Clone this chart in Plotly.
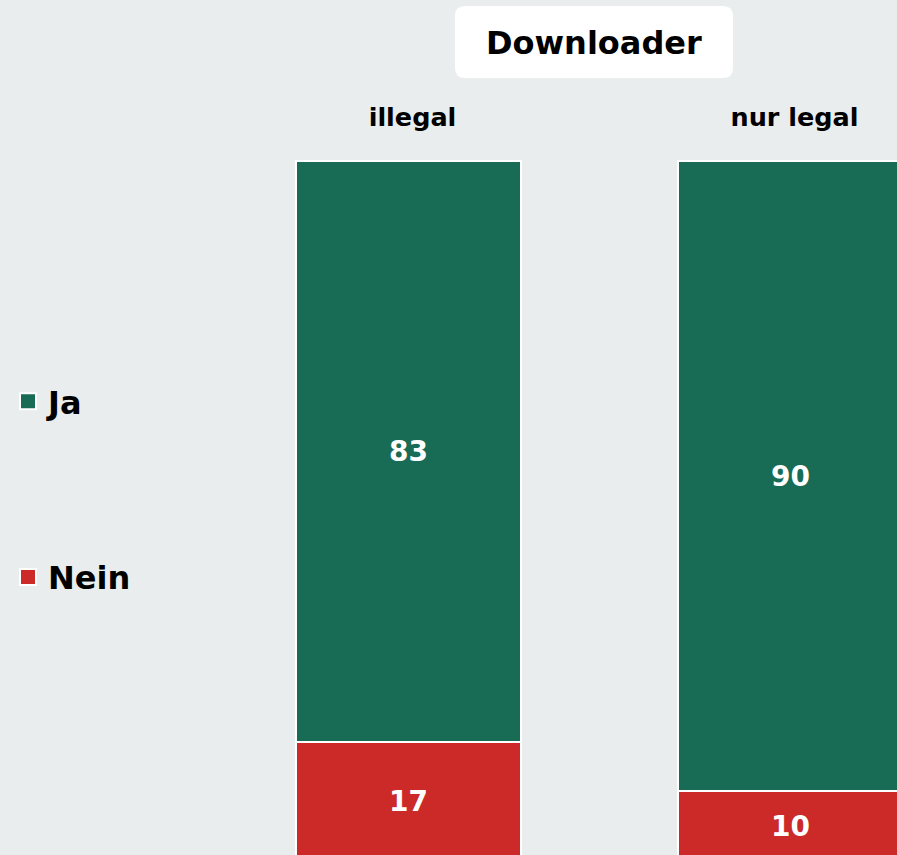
import plotly.graph_objects as go

# Survey answers by downloader type (percent)
categories = ["illegal", "nur legal"]
ja_values = [83, 90]
nein_values = [17, 10]
series_names = ["Ja", "Nein"]
chart_title = "Downloader"

GREEN = "#186B55"
RED = "#CC2929"
BG = "#E9EDEE"
FONT = "DejaVu Sans"

W, H = 897, 855
M_TOP, M_BOTTOM = 160, 0
PLOT_H = H - M_TOP - M_BOTTOM


def px_x(px):
    return px / W


def px_y(py):
    return (H - M_BOTTOM - py) / PLOT_H


x_pos = list(range(len(categories)))
value_font = dict(family=FONT, size=28, color="white", weight="bold")

fig = go.Figure()
# "Nein" sits at the bottom of each stack, "Ja" above it
fig.add_trace(go.Bar(
    x=x_pos, y=nein_values, name=series_names[1],
    marker=dict(color=RED, line=dict(color="white", width=2)),
    text=[str(v) for v in nein_values], textposition="inside",
    insidetextanchor="middle", textfont=value_font,
    width=0.589, showlegend=False, hoverinfo="skip",
))
fig.add_trace(go.Bar(
    x=x_pos, y=ja_values, name=series_names[0],
    marker=dict(color=GREEN, line=dict(color="white", width=2)),
    text=[str(v) for v in ja_values], textposition="inside",
    insidetextanchor="middle", textfont=value_font,
    width=0.589, showlegend=False, hoverinfo="skip",
))

# legend entries with larger square swatches
for name, col in zip(series_names, [GREEN, RED]):
    fig.add_trace(go.Scatter(
        x=[None], y=[None], mode="markers", name=name, legendgroup=name,
        marker=dict(symbol="square", size=16, color=col,
                    line=dict(color="white", width=2)),
    ))

# rounded white box behind the title
x0, x1, y0, y1, r = 455, 733, 6, 78, 10
rx, ry = r / W, r / PLOT_H
X0, X1, Y0, Y1 = px_x(x0), px_x(x1), px_y(y0), px_y(y1)
path = (
    f"M {X0 + rx},{Y0} L {X1 - rx},{Y0} Q {X1},{Y0} {X1},{Y0 - ry} "
    f"L {X1},{Y1 + ry} Q {X1},{Y1} {X1 - rx},{Y1} "
    f"L {X0 + rx},{Y1} Q {X0},{Y1} {X0},{Y1 + ry} "
    f"L {X0},{Y0 - ry} Q {X0},{Y0} {X0 + rx},{Y0} Z"
)
fig.add_shape(type="path", path=path, xref="paper", yref="paper",
              fillcolor="white", line=dict(width=0), layer="below")

fig.add_annotation(
    text=chart_title, x=px_x(594), y=px_y(43), xref="paper", yref="paper",
    xanchor="center", yanchor="middle", showarrow=False,
    font=dict(family=FONT, size=32, color="black", weight="bold"),
)

px_per_unit = 7.0
fig.update_layout(
    width=W, height=H,
    margin=dict(l=0, r=0, t=M_TOP, b=M_BOTTOM, pad=0),
    paper_bgcolor=BG, plot_bgcolor=BG,
    barmode="stack", bargap=0,
    font=dict(family=FONT, color="black"),
    legend=dict(
        x=px_x(8), y=px_y(374), xanchor="left", yanchor="top",
        traceorder="grouped", tracegroupgap=131,
        font=dict(family=FONT, size=32, color="black", weight="bold"),
        bgcolor="rgba(0,0,0,0)", itemclick=False, itemdoubleclick=False,
    ),
    xaxis=dict(
        range=[-408.5 / 382, (W - 408.5) / 382],
        tickmode="array", tickvals=x_pos, ticktext=categories,
        side="top", ticks="", ticklabelstandoff=28, ticklabelshift=4,
        showgrid=False, zeroline=False, showline=False,
        tickfont=dict(family=FONT, size=25.5, color="black", weight="bold"),
        fixedrange=True,
    ),
    yaxis=dict(
        range=[6 / px_per_unit, 100 + 1 / px_per_unit],
        visible=False, showgrid=False, zeroline=False, fixedrange=True,
    ),
)

fig.write_html("out.html")
